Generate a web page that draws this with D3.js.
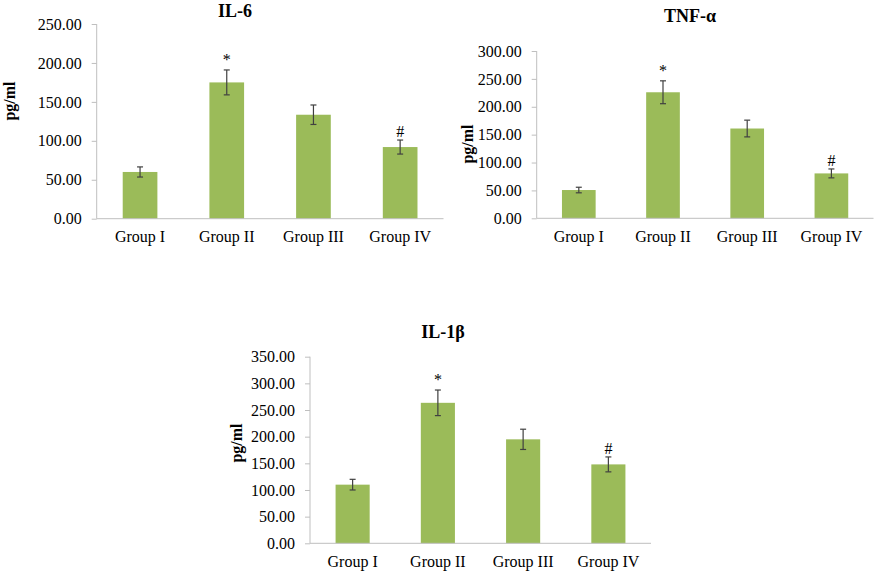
<!DOCTYPE html>
<html>
<head>
<meta charset="utf-8">
<script src="https://cdn.jsdelivr.net/npm/d3@7"></script>
<style>
  html, body { margin: 0; padding: 0; background: #fff; }
  svg { display: block; }
</style>
</head>
<body>
<svg id="chart" width="881" height="571"></svg>
<script>
// ---- data ----
const groups = ["Group I", "Group II", "Group III", "Group IV"];
const markers = ["", "*", "", "#"];

const il6Values = [60, 175, 133.5, 92];
const il6Errors = [6.5, 16, 12.5, 9];
const il6Ticks = [0, 50, 100, 150, 200, 250];

const tnfValues = [50.7, 226, 161, 80.5];
const tnfErrors = [5, 20.5, 15, 8];
const tnfTicks = [0, 50, 100, 150, 200, 250, 300];

const il1bValues = [110, 263.5, 195, 148];
const il1bErrors = [10, 24, 19, 14];
const il1bTicks = [0, 50, 100, 150, 200, 250, 300, 350];

const titles = ["IL-6", "TNF-\u03b1", "IL-1\u03b2"];
const yAxisLabel = "pg/ml";

// ---- drawing ----
const svg = d3.select("#chart");
const FONT = "'Liberation Serif', 'Times New Roman', serif";
const BAR = "#9bbb59";
const AXIS = "#bfbfbf";

function drawChart(opts) {
  const g = svg.append("g");
  const x = d3.scaleBand().domain(groups)
    .range([opts.x0, opts.x1]).paddingInner(0.6).paddingOuter(0.3);
  const ticks = opts.ticks;
  const y = d3.scaleLinear().domain([0, ticks[ticks.length - 1]])
    .range([opts.yBottom, opts.yTop]);

  // y axis
  const yAxis = d3.axisLeft(y).tickValues(ticks).tickSize(5).tickPadding(10)
    .tickFormat(d3.format(".2f"));
  const ya = g.append("g").attr("transform", `translate(${opts.x0},0)`).call(yAxis);
  ya.select(".domain").attr("stroke", AXIS).attr("d", `M0,${opts.yTop}V${opts.yBottom}`);
  ya.selectAll(".tick line").attr("stroke", AXIS);
  ya.selectAll(".tick text").attr("font-family", FONT).attr("font-size", 16).attr("fill", "#000");

  // bars
  g.selectAll("rect.bar").data(opts.values).join("rect")
    .attr("class", "bar")
    .attr("x", (d, i) => x(groups[i]))
    .attr("width", x.bandwidth())
    .attr("y", d => y(d))
    .attr("height", d => y(0) - y(d))
    .attr("fill", BAR);

  // x axis
  const xAxis = d3.axisBottom(x).tickSize(0).tickPadding(12);
  const xa = g.append("g").attr("transform", `translate(0,${opts.yBottom})`).call(xAxis);
  xa.select(".domain").attr("stroke", AXIS).attr("d", `M${opts.x0},0H${opts.x1}`);
  xa.selectAll(".tick text").attr("font-family", FONT).attr("font-size", 16).attr("fill", "#000");

  // error bars
  const eb = g.selectAll("g.err").data(opts.values).join("g").attr("class", "err");
  const cx = i => x(groups[i]) + x.bandwidth() / 2;
  eb.append("line")
    .attr("x1", (d, i) => cx(i)).attr("x2", (d, i) => cx(i))
    .attr("y1", (d, i) => y(d + opts.errors[i])).attr("y2", (d, i) => y(d - opts.errors[i]))
    .attr("stroke", "#404040").attr("stroke-width", 1.2);
  eb.append("line")
    .attr("x1", (d, i) => cx(i) - 3).attr("x2", (d, i) => cx(i) + 3)
    .attr("y1", (d, i) => y(d + opts.errors[i])).attr("y2", (d, i) => y(d + opts.errors[i]))
    .attr("stroke", "#404040").attr("stroke-width", 1.2);
  eb.append("line")
    .attr("x1", (d, i) => cx(i) - 3).attr("x2", (d, i) => cx(i) + 3)
    .attr("y1", (d, i) => y(d - opts.errors[i])).attr("y2", (d, i) => y(d - opts.errors[i]))
    .attr("stroke", "#404040").attr("stroke-width", 1.2);

  // significance markers
  g.selectAll("text.mark").data(opts.values).join("text")
    .attr("class", "mark")
    .attr("x", (d, i) => cx(i))
    .attr("y", (d, i) => y(d + opts.errors[i]) - (markers[i] === "*" ? 5 : 3))
    .attr("text-anchor", "middle")
    .attr("font-family", FONT).attr("font-size", 16).attr("fill", "#000")
    .text((d, i) => markers[i]);

  // title
  g.append("text")
    .attr("x", opts.titleX).attr("y", opts.titleY)
    .attr("text-anchor", "middle")
    .attr("font-family", FONT).attr("font-size", 18).attr("font-weight", "bold")
    .text(opts.title);

  // y label
  g.append("text")
    .attr("transform", `translate(${opts.labelX},${opts.labelY}) rotate(-90)`)
    .attr("text-anchor", "middle")
    .attr("dy", "0.35em")
    .attr("font-family", FONT).attr("font-size", 16).attr("font-weight", "bold")
    .text(yAxisLabel);
}

drawChart({
  values: il6Values, errors: il6Errors, ticks: il6Ticks, title: titles[0],
  x0: 96.7, x1: 443.5, yTop: 24, yBottom: 218.7,
  titleX: 235, titleY: 16.5, labelX: 9, labelY: 101
});
drawChart({
  values: tnfValues, errors: tnfErrors, ticks: tnfTicks, title: titles[1],
  x0: 536.7, x1: 873.5, yTop: 51, yBottom: 218.3,
  titleX: 690, titleY: 21.5, labelX: 467, labelY: 144
});
drawChart({
  values: il1bValues, errors: il1bErrors, ticks: il1bTicks, title: titles[2],
  x0: 310, x1: 651, yTop: 356.7, yBottom: 543.3,
  titleX: 443, titleY: 338, labelX: 236, labelY: 443
});
</script>
</body>
</html>
